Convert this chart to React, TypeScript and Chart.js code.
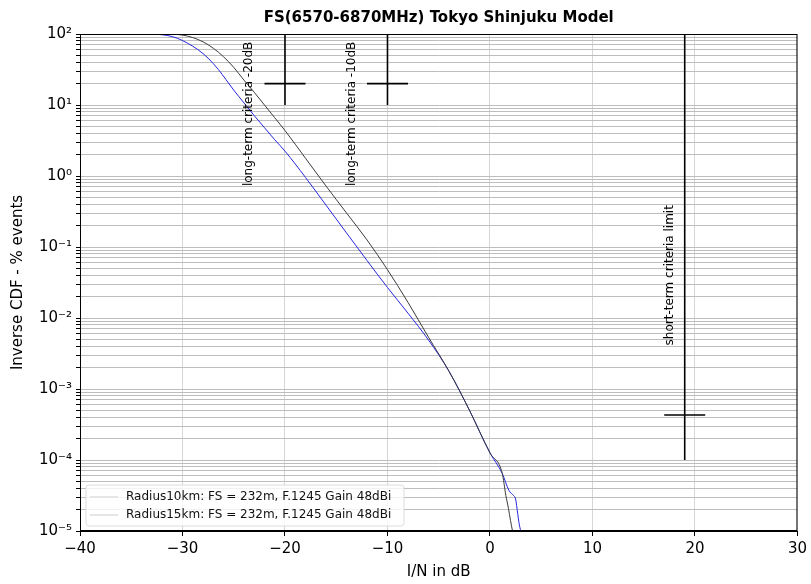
import React, { useEffect, useRef } from 'react';
import { Chart, registerables } from 'chart.js';

Chart.register(...registerables);

const TITLE = 'FS(6570-6870MHz) Tokyo Shinjuku Model';
const X_LABEL = 'I/N in dB';
const Y_LABEL = 'Inverse CDF - % events';

const X_TICKS = [-40, -30, -20, -10, 0, 10, 20, 30];
const X_TICK_LABELS = ['\u221240', '\u221230', '\u221220', '\u221210', '0', '10', '20', '30'];
const Y_EXPONENTS = [-5, -4, -3, -2, -1, 0, 1, 2];
const Y_TICK_LABELS = ['10\u207B\u2075', '10\u207B\u2074', '10\u207B\u00B3', '10\u207B\u00B2', '10\u207B\u00B9', '10\u2070', '10\u00B9', '10\u00B2'];

const SERIES_NAMES = [
  'Radius10km: FS = 232m, F.1245 Gain 48dBi',
  'Radius15km: FS = 232m, F.1245 Gain 48dBi',
];

// Radius 10 km (dark curve)
const R10_X = [-31, -30, -29, -28, -27, -26, -25, -24, -23, -22, -21, -20, -18, -16, -14, -12, -10, -8, -6, -4, -2, 0, 1.2, 1.55, 1.8, 2.0, 2.2];
const R10_Y = [100, 96.6, 89.1, 77.6, 63.1, 47.9, 33.9, 22.4, 15.1, 10, 6.61, 4.37, 1.78, 0.724, 0.302, 0.126, 0.0479, 0.0166, 0.00537, 0.00178, 0.000501, 0.000126, 6.46e-5, 3.16e-5, 2.09e-5, 1.41e-5, 1.0e-5];

// Radius 15 km (blue curve)
const R15_X = [-33, -32.5, -31.5, -30.5, -29.5, -28.5, -27.5, -26.5, -25, -24, -23, -22, -21, -20, -18, -16, -14, -12, -10, -8, -6, -4, -2, 0, 1.2, 1.85, 2.3, 2.5, 2.7, 2.85, 3.0];
const R15_Y = [100, 98.9, 95.5, 87.1, 74.1, 60.3, 45.7, 31.6, 16.2, 10.7, 7.08, 4.79, 3.24, 2.24, 0.955, 0.389, 0.158, 0.0646, 0.0269, 0.0117, 0.0049, 0.00178, 0.000501, 0.000126, 6.46e-5, 3.72e-5, 3.16e-5, 2.82e-5, 1.78e-5, 1.26e-5, 1.0e-5];

// Criteria markers
const LT_CRIT_X = [-20, -10];
const LT_RANGE = [10, 100];
const LT_MARK_Y = 20;
const ST_CRIT_X = 19;
const ST_RANGE = [1e-4, 100];
const ST_MARK_Y = 4.3e-4;
const MARK_HALF_WIDTH = 2;

const ANNOT_TEXTS = ['long-term criteria -20dB', 'long-term criteria -10dB', 'short-term criteria limit'];
const ANNOT_X = [-23.5, -13.5, 17.6];
const ANNOT_Y = [7.5, 7.5, 0.04];

const FONT = '"DejaVu Sans", sans-serif';

export default function App() {
  const ref = useRef<HTMLCanvasElement>(null);

  useEffect(() => {
    const canvas = ref.current;
    if (!canvas) return;
    const pts = (xs: number[], ys: number[]) => xs.map((x, i) => ({ x, y: ys[i] }));

    const markerSets: any[] = [];
    const blackLine = (data: any[]) => ({
      data,
      showLine: true,
      borderColor: '#000',
      borderWidth: 1.6,
      pointRadius: 0,
      tension: 0,
      clip: false,
    });
    LT_CRIT_X.forEach((x) => {
      markerSets.push(blackLine([{ x, y: LT_RANGE[0] }, { x, y: LT_RANGE[1] }]));
      markerSets.push(blackLine([{ x: x - MARK_HALF_WIDTH, y: LT_MARK_Y }, { x: x + MARK_HALF_WIDTH, y: LT_MARK_Y }]));
    });
    markerSets.push(blackLine([{ x: ST_CRIT_X, y: ST_RANGE[0] }, { x: ST_CRIT_X, y: ST_RANGE[1] }]));
    markerSets.push(blackLine([{ x: ST_CRIT_X - MARK_HALF_WIDTH, y: ST_MARK_Y }, { x: ST_CRIT_X + MARK_HALF_WIDTH, y: ST_MARK_Y }]));

    const overlay = {
      id: 'overlay',
      afterDatasetsDraw(chart: any) {
        const { ctx, chartArea, scales } = chart;
        const xs = scales.x, ys = scales.y;
        ctx.save();
        // annotations
        ctx.fillStyle = '#000';
        ctx.font = `12px ${FONT}`;
        ctx.textAlign = 'center';
        ctx.textBaseline = 'middle';
        ANNOT_TEXTS.forEach((t, i) => {
          const px = xs.getPixelForValue(ANNOT_X[i]);
          const py = ys.getPixelForValue(ANNOT_Y[i]);
          ctx.save();
          ctx.translate(px, py);
          ctx.rotate(-Math.PI / 2);
          ctx.fillText(t, 0, 0);
          ctx.restore();
        });
        // legend
        const lx = chartArea.left + 6, ly = chartArea.bottom - 46, lw = 318, lh = 41;
        ctx.beginPath();
        const r = 3;
        ctx.moveTo(lx + r, ly);
        ctx.lineTo(lx + lw - r, ly);
        ctx.quadraticCurveTo(lx + lw, ly, lx + lw, ly + r);
        ctx.lineTo(lx + lw, ly + lh - r);
        ctx.quadraticCurveTo(lx + lw, ly + lh, lx + lw - r, ly + lh);
        ctx.lineTo(lx + r, ly + lh);
        ctx.quadraticCurveTo(lx, ly + lh, lx, ly + lh - r);
        ctx.lineTo(lx, ly + r);
        ctx.quadraticCurveTo(lx, ly, lx + r, ly);
        ctx.closePath();
        ctx.fillStyle = 'rgba(255,255,255,0.8)';
        ctx.fill();
        ctx.strokeStyle = '#dcdcdc';
        ctx.lineWidth = 1;
        ctx.stroke();
        ctx.font = `12px ${FONT}`;
        ctx.textAlign = 'left';
        ctx.textBaseline = 'middle';
        SERIES_NAMES.forEach((name, i) => {
          const yy = ly + 12 + i * 18;
          ctx.strokeStyle = '#e6e6e6';
          ctx.lineWidth = 2;
          ctx.beginPath();
          ctx.moveTo(lx + 4, yy);
          ctx.lineTo(lx + 32, yy);
          ctx.stroke();
          ctx.fillStyle = '#111';
          ctx.fillText(name, lx + 40, yy);
        });
        ctx.restore();
      },
      afterDraw(chart: any) {
        const { ctx, chartArea } = chart;
        ctx.save();
        ctx.strokeStyle = '#000';
        ctx.lineWidth = 1;
        ctx.strokeRect(chartArea.left + 0.5, chartArea.top + 0.5, chartArea.right - chartArea.left - 1, chartArea.bottom - chartArea.top - 1);
        const cx = (chartArea.left + chartArea.right) / 2;
        ctx.fillStyle = '#000';
        ctx.textAlign = 'center';
        ctx.textBaseline = 'middle';
        ctx.font = `bold 15px ${FONT}`;
        ctx.fillText(TITLE, cx, 18);
        ctx.font = `15px ${FONT}`;
        ctx.fillText(X_LABEL, cx, 572);
        ctx.save();
        ctx.translate(18, (chartArea.top + chartArea.bottom) / 2);
        ctx.rotate(-Math.PI / 2);
        ctx.fillText(Y_LABEL, 0, 0);
        ctx.restore();
        ctx.restore();
      },
    };

    const chart = new Chart(canvas, {
      type: 'scatter',
      data: {
        datasets: [
          {
            label: SERIES_NAMES[0],
            data: pts(R10_X, R10_Y),
            showLine: true,
            borderColor: '#3c3c3c',
            borderWidth: 1,
            pointRadius: 0,
            cubicInterpolationMode: 'monotone',
          },
          {
            label: SERIES_NAMES[1],
            data: pts(R15_X, R15_Y),
            showLine: true,
            borderColor: '#2626e0',
            borderWidth: 1,
            pointRadius: 0,
            cubicInterpolationMode: 'monotone',
          },
          ...markerSets,
        ] as any,
      },
      options: {
        responsive: false,
        animation: false,
        devicePixelRatio: 1,
        layout: { padding: { top: 34, right: 12, left: 0, bottom: 0 } },
        plugins: {
          legend: { display: false },
          tooltip: { enabled: false },
          title: { display: false },
        },
        scales: {
          x: {
            type: 'linear',
            min: -40,
            max: 30,
            afterBuildTicks: (s: any) => {
              s.ticks = X_TICKS.map((v) => ({ value: v }));
            },
            afterFit: (s: any) => {
              s.height = 53;
            },
            ticks: {
              autoSkip: false,
              maxRotation: 0,
              padding: 4,
              color: '#000',
              font: { family: FONT, size: 15 },
              callback: (v: any) => {
                const i = X_TICKS.indexOf(Number(v));
                return i >= 0 ? X_TICK_LABELS[i] : '';
              },
            },
            grid: { color: '#d6d6d6', lineWidth: 1, tickColor: '#000', tickLength: 5 },
            border: { display: true, color: '#000', width: 1 },
          },
          y: {
            type: 'logarithmic',
            min: 1e-5,
            max: 100,
            afterBuildTicks: (s: any) => {
              const t: any[] = [];
              Y_EXPONENTS.forEach((e) => {
                for (let m = 1; m <= 9; m++) {
                  const v = m * Math.pow(10, e);
                  if (v <= 100 * 1.0000001) t.push({ value: v, major: m === 1 });
                }
              });
              s.ticks = t;
            },
            afterFit: (s: any) => {
              s.width = 80;
            },
            ticks: {
              autoSkip: false,
              padding: 4,
              color: '#000',
              font: { family: FONT, size: 15 },
              callback: (v: any) => {
                const lv = Math.log10(Number(v));
                const e = Math.round(lv);
                if (Math.abs(lv - e) > 1e-6) return '';
                const i = Y_EXPONENTS.indexOf(e);
                return i >= 0 ? Y_TICK_LABELS[i] : '';
              },
            },
            grid: { color: '#bdbdbd', lineWidth: 1, tickColor: '#000', tickLength: 4 },
            border: { display: true, color: '#000', width: 1 },
          },
        },
      },
      plugins: [overlay],
    } as any);
    return () => chart.destroy();
  }, []);

  return (
    <div style={{ position: 'absolute', left: 0, top: 0, width: 811, height: 584, background: '#fff' }}>
      <canvas ref={ref} width={811} height={584} style={{ display: 'block', width: '811px', height: '584px' }} />
    </div>
  );
}
